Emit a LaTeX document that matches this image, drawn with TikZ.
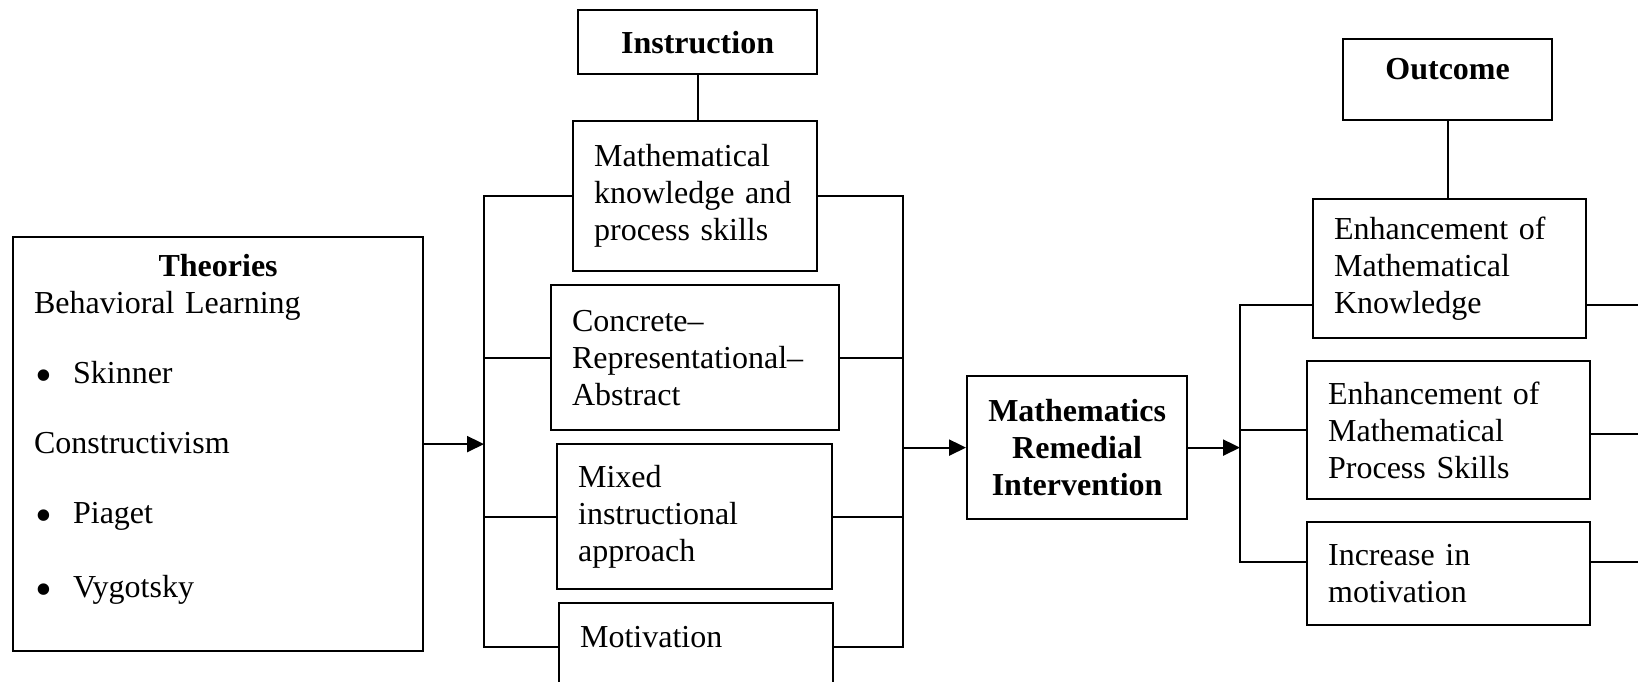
\documentclass[tikz,border=0pt]{standalone}
\usepackage{fontspec}
\setmainfont{Liberation Serif}
\usetikzlibrary{arrows.meta,calc}

\newcommand{\diagfont}{\fontsize{16}{18.5}\selectfont}
\newcommand{\bull}{\hspace*{0.5pt}\makebox[19pt][l]{\raisebox{-4pt}{\scalebox{1.5}{\textbullet}}}}

\tikzset{
  box/.style={draw, anchor=north west, align=left, inner xsep=10.5pt, inner ysep=0pt},
  head/.style={draw, anchor=north west, align=center, inner sep=0pt, font=\diagfont\bfseries},
  arr/.style={-{Triangle[length=8.5pt,width=8pt]}}
}

\begin{document}
\begin{tikzpicture}[x=0.5pt, y=-0.5pt, line width=1.1pt, font=\diagfont]
    % pixel coordinates, y grows downwards
    \useasboundingbox (0,0) rectangle (1638,681);
    \coordinate (lbus) at (484,0);
    \coordinate (rbus) at (903,0);
    \coordinate (obus) at (1240,0);
    \coordinate (edge) at (1640,0);

    % Theories
    \node[box, text width=184pt, minimum height=207pt] (theo) at (12,236) {%
        \makebox[\linewidth]{\bfseries Theories}\\
        Behavioral Learning\\[16.5pt]
        \bull Skinner\\[16.5pt]
        Constructivism\\[16.5pt]
        \bull Piaget\\[18.5pt]
        \bull Vygotsky\\
        \mbox{}};

    % Instruction column
    \node[head, minimum width=119.5pt, minimum height=32pt] (instr) at (577,9) {Instruction};
    \node[box, text width=101pt, minimum height=75pt] (know) at (572,120) {Mathematical\\knowledge and\\process skills};
    \node[box, text width=123pt, minimum height=72.5pt] (cra) at (550,284) {Concrete–\\Representational–\\Abstract};
    \node[box, text width=116.5pt, minimum height=72.5pt] (mixed) at (556,443) {Mixed\\instructional\\approach};
    \node[box, text width=116pt, minimum height=44pt, text height=11pt, text depth=11pt] (motiv) at (558,602) {Motivation};

    % Intervention
    \node[head, minimum width=110pt, minimum height=71.5pt] (mri) at (966,375) {Mathematics\\Remedial\\Intervention};

    % Outcome column
    \node[head, minimum width=104.5pt, minimum height=40.5pt, text height=11pt, text depth=11pt] (outc) at (1342,38) {Outcome};
    \node[box, text width=115.5pt, minimum height=69.5pt] (emk) at (1312,198) {Enhancement of\\Mathematical\\Knowledge};
    \node[box, text width=120.5pt, minimum height=69pt] (emps) at (1306,360) {Enhancement of\\Mathematical\\Process Skills};
    \node[box, text width=120.5pt, minimum height=51.5pt] (inc) at (1306,521) {Increase in\\motivation};

    % headers to first boxes
    \draw (instr.south) -- (instr.south |- know.north);
    \draw (outc.south) -- (outc.south |- emk.north);

    % left and right buses of the instruction column
    \draw[arr] (theo.east) -- (theo.east -| lbus);
    \draw (know.west) -| (lbus |- motiv.west) -- (motiv.west);
    \draw (cra.west) -- (cra.west -| lbus);
    \draw (mixed.west) -- (mixed.west -| lbus);
    \draw (know.east) -| (rbus |- motiv.east) -- (motiv.east);
    \draw (cra.east) -- (cra.east -| rbus);
    \draw (mixed.east) -- (mixed.east -| rbus);
    \draw[arr] (rbus |- mri.west) -- (mri.west);

    % outcome bus
    \draw[arr] (mri.east) -- (mri.east -| obus);
    \draw ($(emk.west)+(0,36)$) -| ($(inc.west -| obus)+(0,-12)$) -- ($(inc.west)+(0,-12)$);
    \draw (emps.west) -- (emps.west -| obus);
    \draw ($(emk.east)+(0,36)$) -- ($(emk.east -| edge)+(0,36)$);
    \draw ($(emps.east)+(0,4)$) -- ($(emps.east -| edge)+(0,4)$);
    \draw ($(inc.east)+(0,-12)$) -- ($(inc.east -| edge)+(0,-12)$);
\end{tikzpicture}
\end{document}
